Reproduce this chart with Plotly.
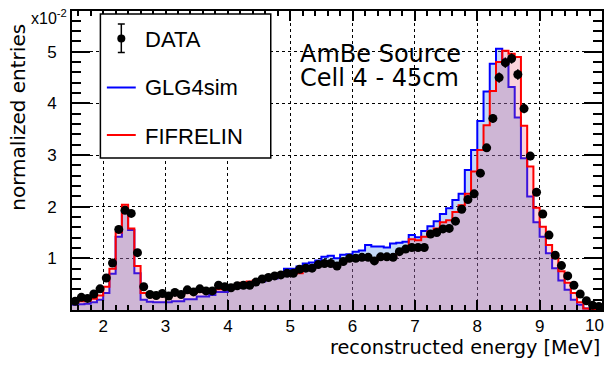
import plotly.graph_objects as go
import numpy as np

# ---------------- data (units of 1e-2) ----------------
bin_lo, bin_hi, bin_w = 1.5, 10.0, 0.1
x_tick_vals = [2, 3, 4, 5, 6, 7, 8, 9, 10]
y_tick_vals = [1, 2, 3, 4, 5]

data_vals = [0.17, 0.245, 0.225, 0.31, 0.41, 0.62, 0.91, 1.56, 1.93, 1.87,
             1.11, 0.45, 0.30, 0.28, 0.32, 0.27, 0.34, 0.30, 0.39, 0.35,
             0.41, 0.37, 0.37, 0.48, 0.45, 0.43, 0.47, 0.48, 0.48, 0.54,
             0.60, 0.63, 0.66, 0.68, 0.71, 0.71, 0.79, 0.81, 0.81, 0.88,
             0.90, 0.90, 0.85, 0.94, 1.00, 1.00, 1.02, 1.02, 0.95, 1.03,
             1.03, 1.02, 1.13, 1.18, 1.21, 1.21, 1.21, 1.47, 1.50, 1.57,
             1.58, 1.72, 1.95, 2.14, 2.25, 2.65, 3.14, 3.71, 4.50, 4.79,
             4.87, 4.56, 3.90, 2.98, 2.28, 1.86, 1.45, 1.06, 0.86, 0.66,
             0.48, 0.31, 0.18, 0.09, 0.07]

data_errs = [0.02, 0.02, 0.02, 0.02, 0.03, 0.03, 0.04, 0.05, 0.05, 0.05,
             0.04, 0.03, 0.02, 0.02, 0.02, 0.02, 0.02, 0.02, 0.03, 0.02,
             0.03, 0.02, 0.02, 0.03, 0.03, 0.03, 0.03, 0.03, 0.03, 0.03,
             0.03, 0.03, 0.03, 0.03, 0.04, 0.04, 0.04, 0.04, 0.04, 0.04,
             0.04, 0.04, 0.04, 0.04, 0.04, 0.04, 0.04, 0.04, 0.04, 0.04,
             0.04, 0.04, 0.04, 0.05, 0.05, 0.05, 0.05, 0.05, 0.05, 0.05,
             0.05, 0.05, 0.06, 0.06, 0.06, 0.07, 0.07, 0.08, 0.10, 0.10,
             0.10, 0.10, 0.09, 0.08, 0.07, 0.06, 0.05, 0.04, 0.04, 0.03,
             0.03, 0.02, 0.02, 0.01, 0.01]

glg4sim_vals = [0.10, 0.11, 0.12, 0.15, 0.20, 0.33, 0.70, 1.42, 1.90, 1.55,
                0.71, 0.20, 0.16, 0.15, 0.15, 0.15, 0.17, 0.17, 0.21, 0.21,
                0.26, 0.26, 0.29, 0.35, 0.35, 0.43, 0.43, 0.47, 0.47, 0.55,
                0.55, 0.61, 0.61, 0.68, 0.80, 0.80, 0.84, 0.90, 0.92, 0.96,
                1.03, 1.05, 1.00, 1.07, 1.08, 1.13, 1.15, 1.26, 1.23, 1.23,
                1.21, 1.29, 1.30, 1.32, 1.45, 1.41, 1.53, 1.62, 1.72, 1.86,
                1.97, 2.13, 2.25, 2.71, 3.10, 3.66, 4.23, 4.77, 5.06, 4.85,
                4.32, 3.73, 2.94, 2.20, 1.70, 1.42, 1.10, 0.81, 0.57, 0.39,
                0.20, 0.10, 0.03, 0.01, 0.00]

fifrelin_vals = [0.15, 0.17, 0.18, 0.22, 0.28, 0.45, 0.80, 1.50, 2.04, 1.58,
                 0.85, 0.33, 0.30, 0.29, 0.30, 0.28, 0.30, 0.31, 0.33, 0.33,
                 0.36, 0.36, 0.40, 0.40, 0.42, 0.42, 0.45, 0.53, 0.55, 0.57,
                 0.58, 0.63, 0.65, 0.67, 0.70, 0.70, 0.71, 0.79, 0.82, 0.86,
                 0.89, 0.89, 0.87, 0.93, 0.99, 1.00, 1.00, 1.00, 0.95, 1.02,
                 1.02, 1.05, 1.12, 1.18, 1.37, 1.35, 1.42, 1.52, 1.58, 1.70,
                 1.74, 1.90, 2.03, 2.25, 2.68, 3.10, 3.58, 4.24, 4.80, 5.02,
                 4.96, 4.90, 3.57, 2.78, 1.98, 1.61, 1.26, 1.01, 0.75, 0.53,
                 0.33, 0.15, 0.03, 0.01, 0.00]

n_bins = len(data_vals)
edges = bin_lo + bin_w * np.arange(n_bins + 1)
centers = edges[:-1] + bin_w / 2

W, H = 609, 367
L, R, T, B = 72, 5, 11, 57
pw, ph = W - L - R, H - T - B


def px(xp):
    return (xp - L) / pw


def py(yp):
    return (H - B - yp) / ph


fig = go.Figure()

fig.add_trace(go.Scatter(
    x=edges, y=glg4sim_vals + [glg4sim_vals[-1]], mode="lines",
    line=dict(color="#0000ff", width=2, shape="hv"),
    fill="tozeroy", fillcolor="rgba(60,130,230,0.30)", showlegend=False))

fig.add_trace(go.Scatter(
    x=edges, y=fifrelin_vals + [fifrelin_vals[-1]], mode="lines",
    line=dict(color="#ff0000", width=2, shape="hv"),
    fill="tozeroy", fillcolor="rgba(235,80,110,0.25)", showlegend=False))

fig.add_trace(go.Scatter(
    x=centers, y=data_vals, mode="markers",
    marker=dict(color="black", size=9),
    error_y=dict(type="data", array=data_errs, color="black",
                 thickness=1.5, width=0),
    showlegend=False))

font_axis = dict(family="Liberation Sans, Arial", size=17, color="black")
title_font_x = dict(family="DejaVu Sans", size=19.3, color="black")
title_font_y = dict(family="DejaVu Sans", size=20, color="black")

fig.update_xaxes(
    range=[bin_lo, bin_hi], tickvals=x_tick_vals,
    ticktext=[str(v) if v != bin_hi else "" for v in x_tick_vals],
    ticks="inside", ticklen=10, tickwidth=2, tickcolor="black",
    minor=dict(dtick=0.2, ticks="inside", ticklen=5, tickwidth=1.5,
               tickcolor="black", showgrid=False),
    showline=True, linecolor="black", linewidth=2, mirror="allticks",
    showgrid=True, gridcolor="black", griddash="dot", gridwidth=1,
    zeroline=False, tickfont=font_axis)
fig.update_yaxes(
    range=[0, 5.79], tickvals=y_tick_vals,
    ticks="inside", ticklen=18, tickwidth=2, tickcolor="black",
    minor=dict(dtick=0.2, ticks="inside", ticklen=9, tickwidth=1.5,
               tickcolor="black", showgrid=False),
    showline=True, linecolor="black", linewidth=2, mirror="allticks",
    showgrid=True, gridcolor="black", griddash="dot", gridwidth=1,
    zeroline=False, tickfont=font_axis, ticklabelstandoff=10)

shapes = []
# legend box
shapes.append(dict(type="rect", xref="paper", yref="paper",
                   x0=px(100.5), x1=px(271.5), y0=py(158), y1=py(14),
                   line=dict(color="black", width=1.5), fillcolor="white",
                   layer="above"))
# DATA marker with error bar
shapes.append(dict(type="line", xref="paper", yref="paper",
                   x0=px(121.5), x1=px(121.5), y0=py(52.5), y1=py(24),
                   line=dict(color="black", width=1.5), layer="above"))
for yy in (24, 52.5):
    shapes.append(dict(type="line", xref="paper", yref="paper",
                       x0=px(118), x1=px(125), y0=py(yy), y1=py(yy),
                       line=dict(color="black", width=1.5), layer="above"))
shapes.append(dict(type="circle", xref="paper", yref="paper",
                   xsizemode="pixel", ysizemode="pixel",
                   xanchor=px(121.5), yanchor=py(38.5),
                   x0=-4, x1=4, y0=-4, y1=4,
                   fillcolor="black", line=dict(color="black", width=0),
                   layer="above"))
shapes.append(dict(type="line", xref="paper", yref="paper",
                   x0=px(107), x1=px(136), y0=py(87.5), y1=py(87.5),
                   line=dict(color="#0000ff", width=2), layer="above"))
shapes.append(dict(type="line", xref="paper", yref="paper",
                   x0=px(107), x1=px(136), y0=py(135), y1=py(135),
                   line=dict(color="#ff0000", width=2), layer="above"))

leg_font = dict(family="Liberation Sans, Arial", size=22, color="black")
annotations = []
for txt, yy in (("DATA", 39.5), ("GLG4sim", 87.5), ("FIFRELIN", 136)):
    annotations.append(dict(text=txt, xref="paper", yref="paper",
                            x=px(143), y=py(yy), xanchor="left",
                            yanchor="middle", showarrow=False, font=leg_font))

txt_font = dict(family="DejaVu Sans", size=24, color="black")
annotations.append(dict(text="AmBe Source", xref="paper", yref="paper",
                        x=px(299), y=py(53.5), xanchor="left",
                        yanchor="middle", showarrow=False, font=txt_font))
annotations.append(dict(text="Cell 4 - 45cm", xref="paper", yref="paper",
                        x=px(299), y=py(78), xanchor="left", yanchor="middle",
                        showarrow=False, font=txt_font))
annotations.append(dict(text="x10<sup>-2</sup>", xref="paper", yref="paper",
                        x=px(69), y=py(17), xanchor="right", yanchor="middle",
                        showarrow=False,
                        font=dict(family="Liberation Sans, Arial", size=16,
                                  color="black")))
# right-most x tick label (kept inside the canvas as in the reference)
annotations.append(dict(text=str(int(bin_hi)), xref="paper", yref="paper",
                        x=px(608), y=py(325), xanchor="right",
                        yanchor="middle", showarrow=False, font=font_axis))
# axis titles (ROOT style: right / top aligned)
annotations.append(dict(text="reconstructed energy [MeV]", xref="paper",
                        yref="paper", x=px(604), y=py(347), xanchor="right",
                        yanchor="middle", showarrow=False, font=title_font_x))
annotations.append(dict(text="normalized entries", xref="paper",
                        yref="paper", x=px(17), y=py(22), xanchor="center",
                        yanchor="top", textangle=-90, showarrow=False,
                        font=title_font_y))

fig.update_layout(
    width=W, height=H, margin=dict(l=L, r=R, t=T, b=B),
    paper_bgcolor="white", plot_bgcolor="white",
    shapes=shapes, annotations=annotations, showlegend=False)

fig.write_html("out.html")
